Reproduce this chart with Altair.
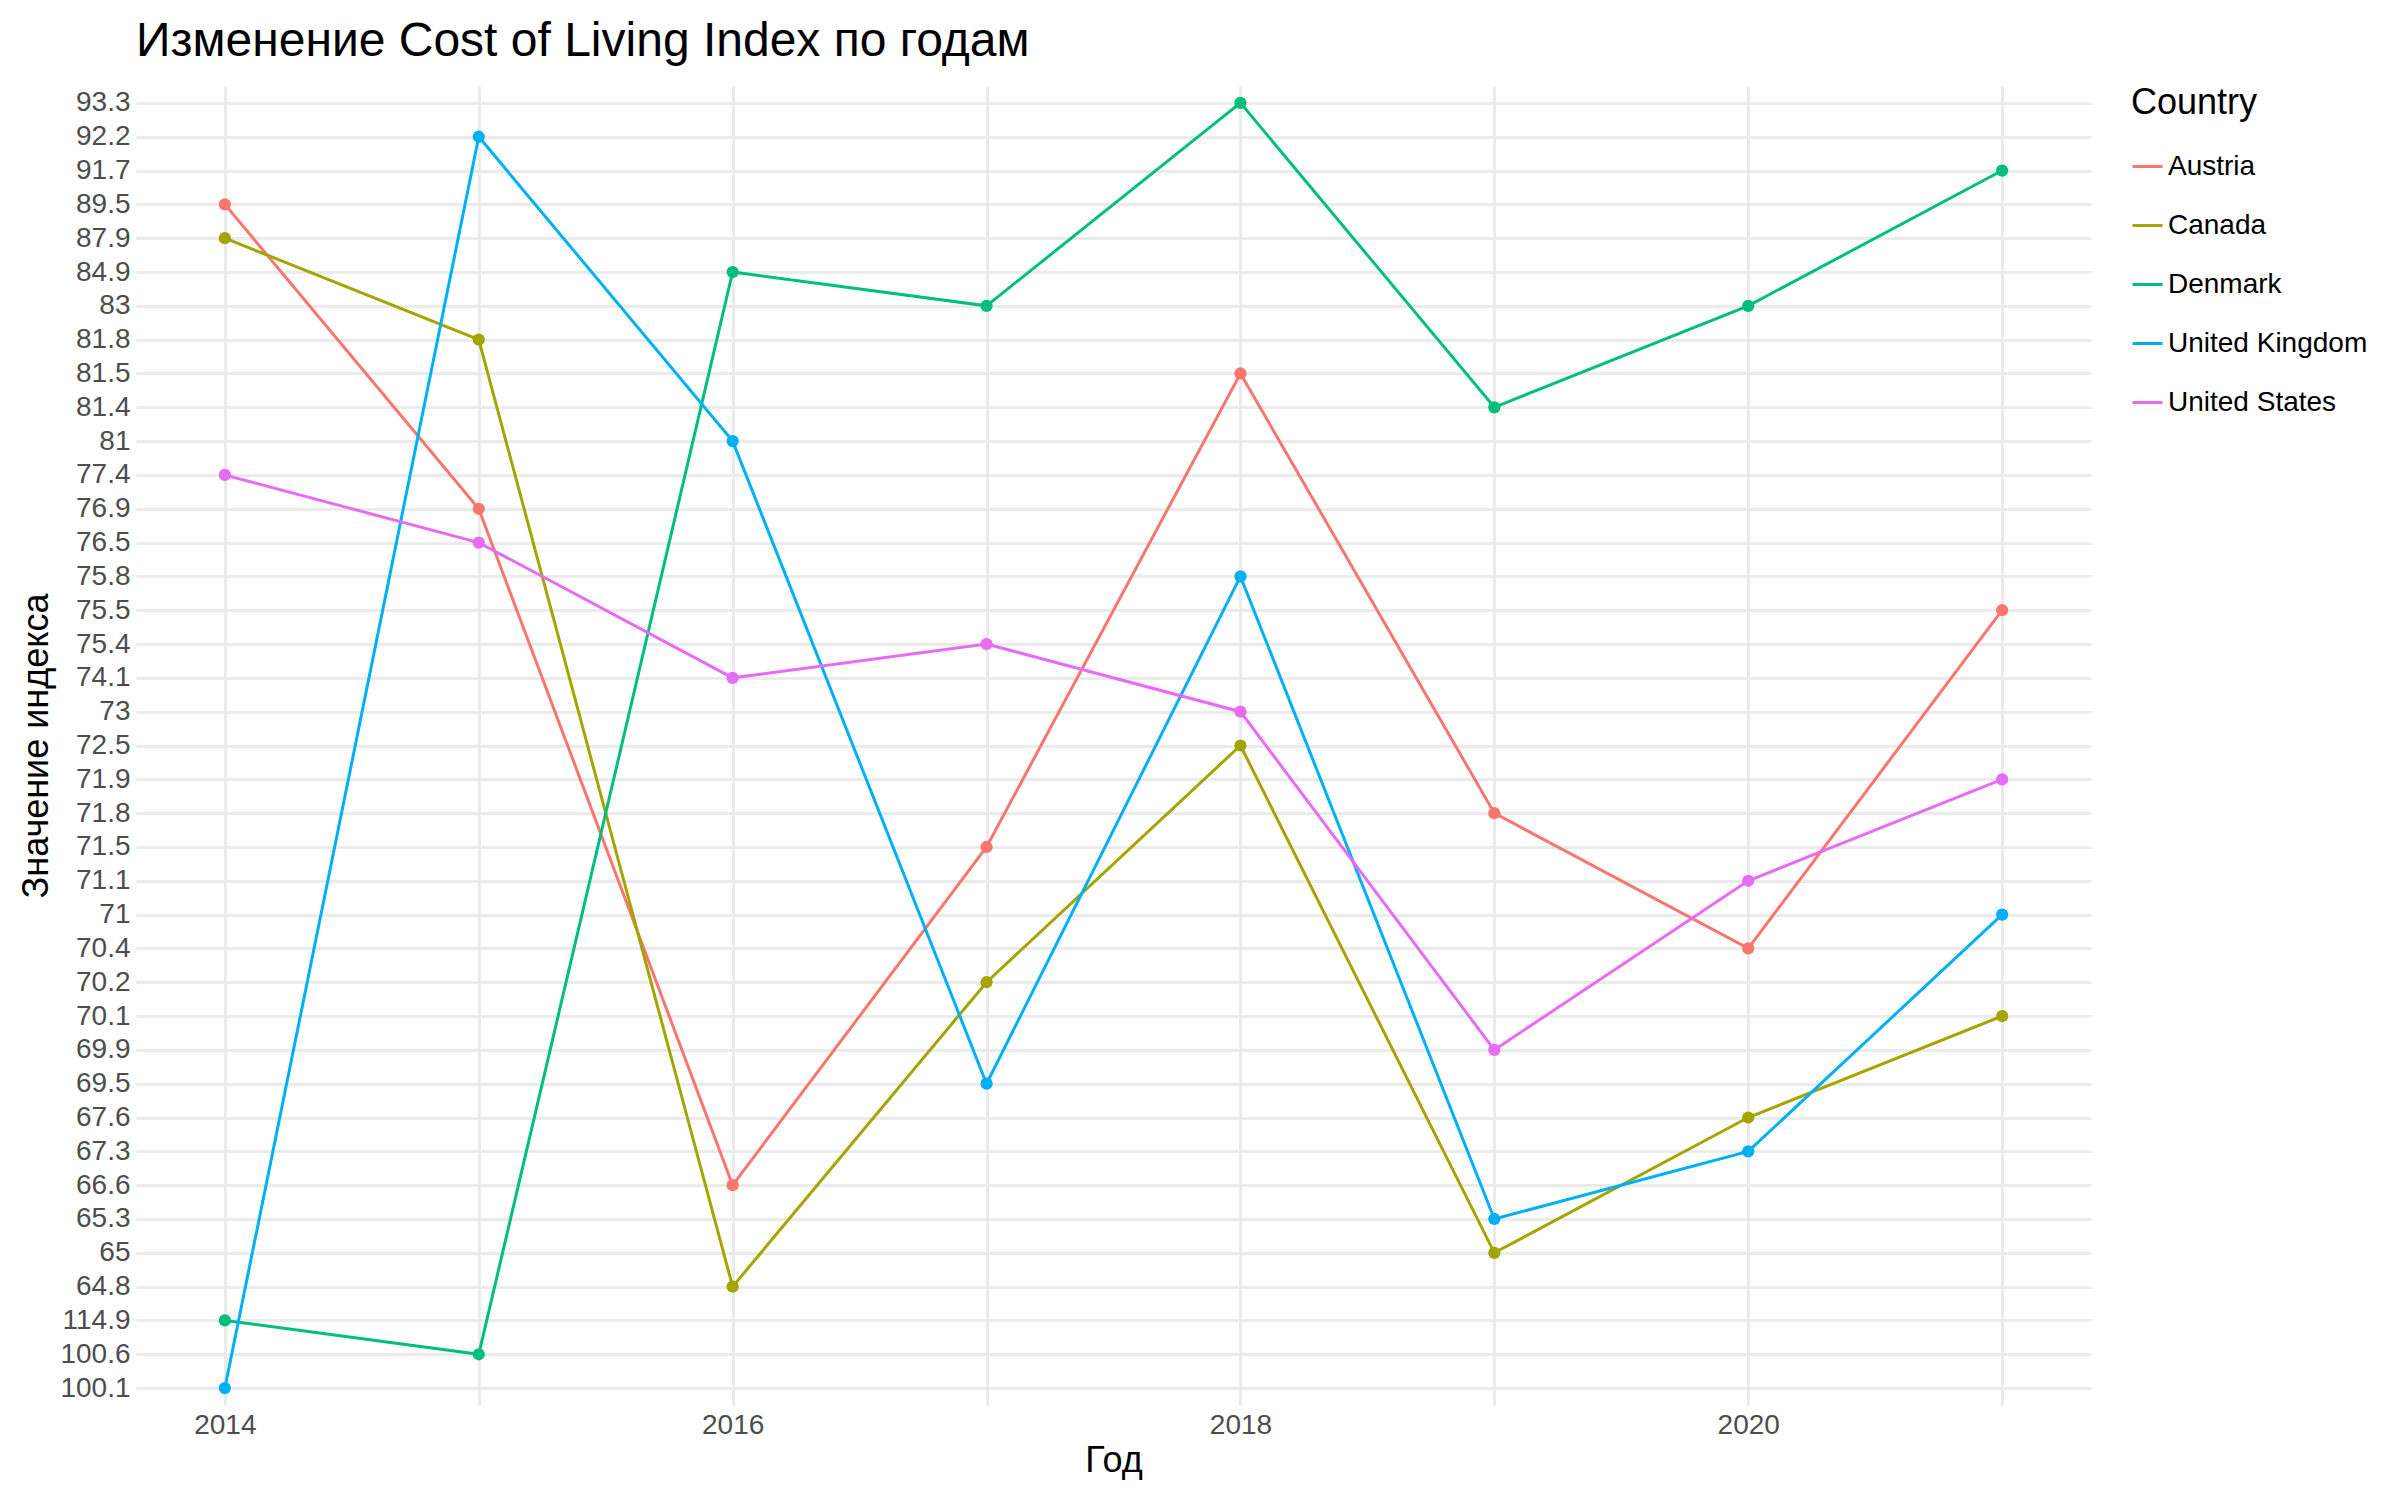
import altair as alt
import pandas as pd

YEARS = [2014, 2015, 2016, 2017, 2018, 2019, 2020, 2021]
COUNTRIES = ["Austria", "Canada", "Denmark", "United Kingdom", "United States"]
AUSTRIA = [89.5, 76.9, 66.6, 71.5, 81.5, 71.8, 70.4, 75.5]
CANADA = [87.9, 81.8, 64.8, 70.2, 72.5, 65, 67.6, 70.1]
DENMARK = [114.9, 100.6, 84.9, 83, 93.3, 81.4, 83, 91.7]
UK = [100.1, 92.2, 81, 69.5, 75.8, 65.3, 67.3, 71]
US = [77.4, 76.5, 74.1, 75.4, 73, 69.9, 71.1, 71.9]
COLORS = ["#F8766D", "#A3A500", "#00BF7D", "#00B0F6", "#E76BF3"]

rows = []
for country, vals in zip(COUNTRIES, [AUSTRIA, CANADA, DENMARK, UK, US]):
    for year, v in zip(YEARS, vals):
        rows.append({"Country": country, "year": year, "value": f"{v:g}"})
df = pd.DataFrame(rows)

# values are strings, so ggplot sorted them lexically
y_order = sorted(df["value"].unique(), reverse=True)

base = alt.Chart(df).encode(
    x=alt.X(
        "year:Q",
        title="Год",
        scale=alt.Scale(domain=[2013.65, 2021.35], nice=False, zero=False),
        axis=alt.Axis(
            values=YEARS,
            labelExpr="datum.value % 2 == 0 ? datum.label : ''",
            format="d",
        ),
    ),
    y=alt.Y(
        "value:N",
        title="Значение индекса",
        sort=y_order,
        scale=alt.Scale(paddingOuter=0.35),
        axis=alt.Axis(grid=True),
    ),
    color=alt.Color(
        "Country:N",
        scale=alt.Scale(domain=COUNTRIES, range=COLORS),
        legend=alt.Legend(title="Country"),
    ),
    order="year:Q",
)

chart = (
    (base.mark_line(strokeWidth=3) + base.mark_circle(size=150, opacity=1))
    .properties(
        width=2380,
        height=1480,
        autosize=alt.AutoSizeParams(type="fit", contains="padding"),
        title=alt.Title(
            "Изменение Cost of Living Index по годам",
            anchor="start",
            frame="group",
            fontSize=48,
            fontWeight="normal",
            color="black",
            offset=20,
        ),
    )
    .configure(font="Liberation Sans", padding={"left": 10, "top": 10, "right": 20, "bottom": 10})
    .configure_view(stroke=None)
    .configure_axis(
        domain=False,
        ticks=False,
        gridColor="#EBEBEB",
        gridWidth=3,
        labelFontSize=28,
        labelColor="#4D4D4D",
        titleFontSize=36,
        titleFontWeight="normal",
        titleColor="black",
        labelPadding=6,
    )
    .configure_axisY(labelLimit=200)
    .configure_legend(
        titleFontSize=36,
        titleFontWeight="normal",
        titleColor="black",
        labelFontSize=28,
        labelColor="black",
        labelLimit=400,
        symbolType="stroke",
        symbolStrokeWidth=3,
        symbolSize=900,
        rowPadding=28,
        titlePadding=28,
        orient="right",
        offset=40,
        padding=0,
    )
)

chart.save("out.html", embed_options={"renderer": "svg", "actions": False})
